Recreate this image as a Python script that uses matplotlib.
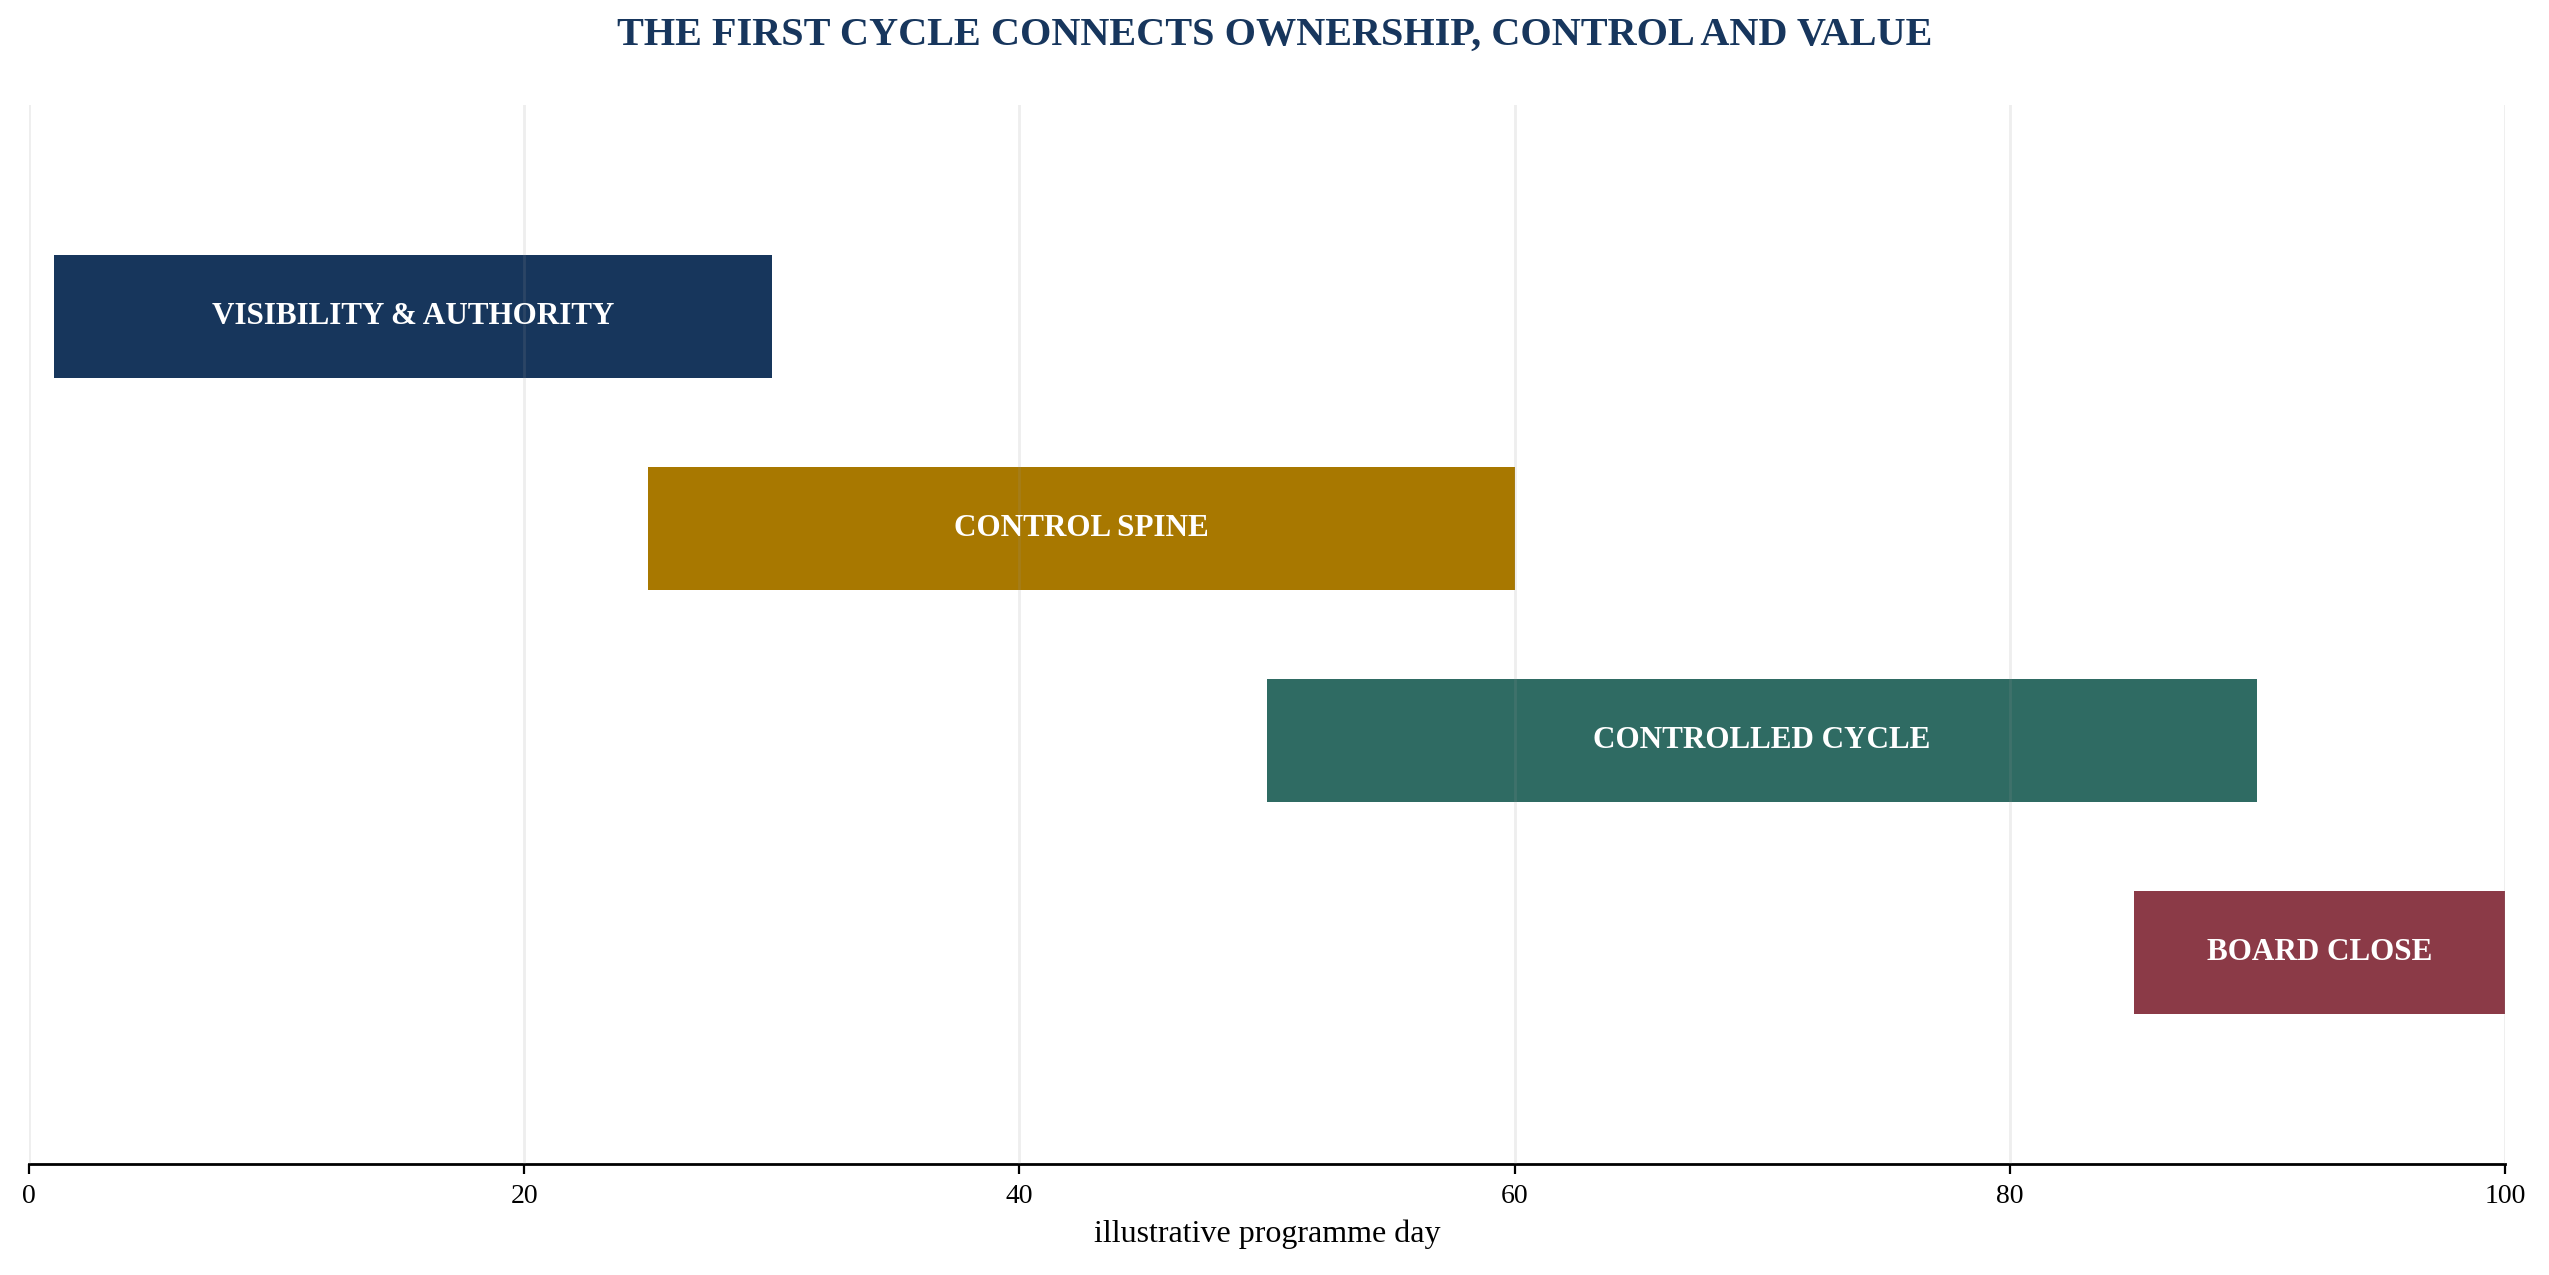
import matplotlib
matplotlib.use('Agg')
import matplotlib.pyplot as plt

phases = ['VISIBILITY & AUTHORITY', 'CONTROL SPINE', 'CONTROLLED CYCLE', 'BOARD CLOSE']
starts = [1, 25, 50, 85]
ends = [30, 60, 90, 100]
colors = ['#17365C', '#A87800', '#2F6B63', '#8B3A47']
xticks = [0, 20, 40, 60, 80, 100]

plt.rcParams['font.family'] = ['Liberation Serif', 'DejaVu Serif']

fig = plt.figure(figsize=(12.745, 6.375), dpi=200)
ax = fig.add_axes([0.0114, 0.087, 0.9713, 0.831])

for i, (name, s, e, c) in enumerate(zip(phases, starts, ends, colors)):
    ax.barh(i, e - s, left=s, height=0.58, color=c, zorder=1)
    ax.text((s + e) / 2, i, name, ha='center', va='center', color='white',
            fontsize=11.2, fontweight='bold', zorder=3)

ax.set_xlim(0, 100)
ax.set_ylim(4, -1)
ax.set_xticks(xticks)
ax.set_yticks([])
ax.tick_params(axis='x', labelsize=10, length=3.5, width=0.8)
ax.set_xlabel('illustrative programme day', fontsize=11.5, labelpad=4)
ax.grid(axis='x', color='#969696', alpha=0.16, linewidth=1.0, zorder=2)
ax.set_axisbelow(False)
for side in ['top', 'right', 'left']:
    ax.spines[side].set_visible(False)
ax.spines['bottom'].set_linewidth(1.0)

fig.suptitle('THE FIRST CYCLE CONNECTS OWNERSHIP, CONTROL AND VALUE',
             fontsize=14.5, fontweight='bold', color='#17365D', y=0.972, va='center')

fig.savefig('out.png', dpi=200)
